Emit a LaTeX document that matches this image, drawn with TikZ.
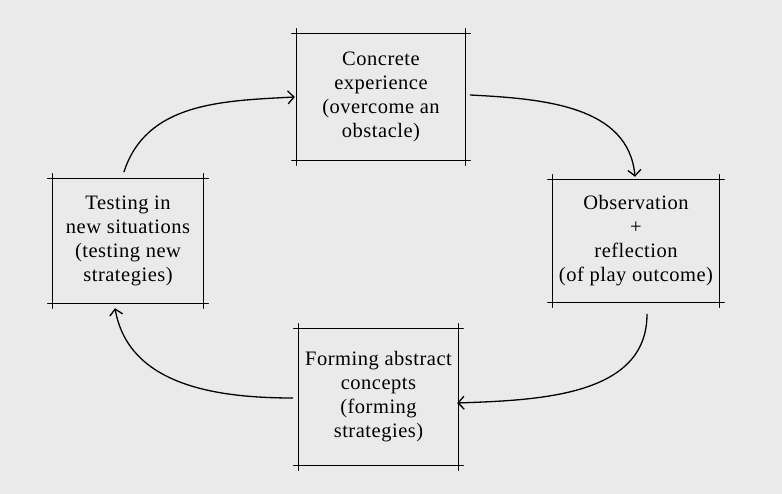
\documentclass[tikz,border=0pt]{standalone}
\usepackage{fontspec}
\setmainfont{Liberation Serif}[LetterSpace=2.5]
\usetikzlibrary{arrows.meta}
\definecolor{paper}{HTML}{EAEAEA}
\begin{document}
\begin{tikzpicture}[x=1pt,y=1pt,
    stage/.style={align=center,inner sep=0pt,font=\fontsize{20.5}{24}\selectfont},
    edge/.style={line width=1.3pt,line cap=round},
    flow/.style={edge,-{Straight Barb[length=6pt,width=13pt]}}]
    \fill [color=paper] (0,0) rectangle (782,494);
    \useasboundingbox (0,0) rectangle (782,494);

    \node[stage,minimum width=168,minimum height=126] (conc) at (381,397) {Concrete\\experience\\(overcome an\\obstacle)};
    \node[stage,minimum width=166,minimum height=122] (obs) at (636,253) {Observation\\+\\reflection\\(of play outcome)};
    \node[stage,minimum width=159,minimum height=136] (form) at (378.5,97) {Forming abstract\\concepts\\(forming\\strategies)};
    \node[stage,minimum width=150,minimum height=124] (test) at (128,253) {Testing in\\new situations\\(testing new\\strategies)};

    \foreach \n in {conc,obs,form,test}
        {\draw[edge] ([xshift=-5]\n.north west) -- ([xshift=5]\n.north east);
         \draw[edge] ([xshift=-5]\n.south west) -- ([xshift=5]\n.south east);
         \draw[edge] ([yshift=5]\n.north west) -- ([yshift=-5]\n.south west);
         \draw[edge] ([yshift=5]\n.north east) -- ([yshift=-5]\n.south east);}

    \draw[flow] ([xshift=-4,yshift=7]test.north) to[out=72,in=183] ([xshift=-2]conc.west);
    \draw[flow] ([xshift=5,yshift=2]conc.east) to[out=-3,in=95] ([xshift=-1,yshift=3]obs.north);
    \draw[flow] ([xshift=11,yshift=-12]obs.south) to[out=-90,in=2] ([xshift=-1,yshift=-6]form.east);
    \draw[flow] ([xshift=-6,yshift=-1]form.west) to[out=180,in=-80] ([xshift=-13,yshift=-5]test.south);
\end{tikzpicture}
\end{document}
